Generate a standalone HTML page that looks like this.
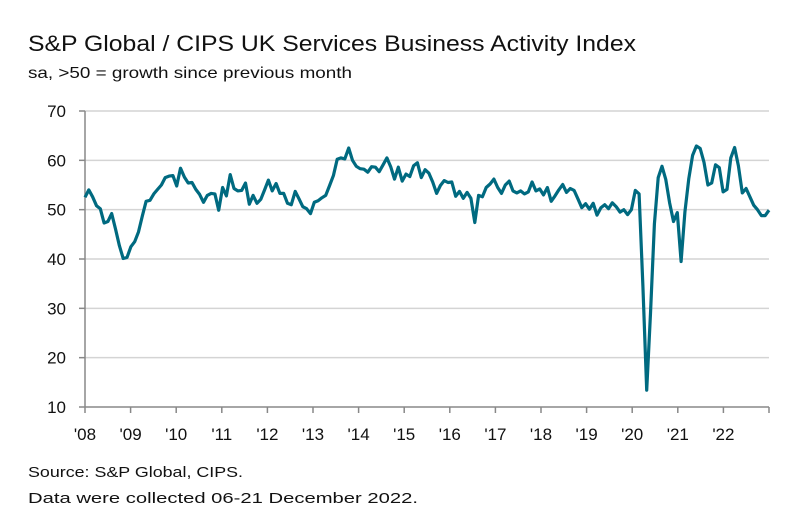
<!DOCTYPE html>
<html><head><meta charset="utf-8"><style>
body{margin:0;background:#fff;width:790px;height:515px;overflow:hidden;font-family:"Liberation Sans",sans-serif;}
svg text{font-family:"Liberation Sans",sans-serif;fill:#111;}
</style></head><body>
<svg id="chart" width="790" height="515">
<text x="28" y="51" font-size="22" textLength="608" lengthAdjust="spacingAndGlyphs">S&amp;P Global / CIPS UK Services Business Activity Index</text>
<text x="28" y="78" font-size="16" textLength="324" lengthAdjust="spacingAndGlyphs">sa, &gt;50 = growth since previous month</text>
<g id="grid"></g><g id="axes"></g><g id="series"></g>
<text x="28" y="477" font-size="15" textLength="215" lengthAdjust="spacingAndGlyphs">Source: S&amp;P Global, CIPS.</text>
<text x="28" y="503" font-size="15" textLength="390" lengthAdjust="spacingAndGlyphs">Data were collected 06-21 December  2022.</text>
</svg>
<script>
const yTicks=[10,20,30,40,50,60,70];
const xLabels=["'08","'09","'10","'11","'12","'13","'14","'15","'16","'17","'18","'19","'20","'21","'22"];
const values=[
52.5,54.0,52.6,50.8,50.2,47.3,47.6,49.2,46.0,42.7,40.1,40.3,
42.5,43.5,45.5,48.7,51.7,51.9,53.2,54.1,55.0,56.5,56.8,56.9,
54.8,58.4,56.6,55.4,55.5,54.1,53.1,51.5,52.9,53.3,53.2,49.9,
54.5,52.8,57.1,54.3,53.8,53.9,55.4,51.1,52.9,51.3,52.1,54.0,
56.0,53.8,55.3,53.3,53.3,51.3,51.0,53.7,52.2,50.6,50.2,49.2,
51.5,51.8,52.4,52.9,54.9,56.9,60.2,60.5,60.3,62.5,60.0,58.8,
58.3,58.2,57.6,58.7,58.6,57.7,59.1,60.5,58.7,56.2,58.6,55.8,
57.2,56.7,58.9,59.5,56.5,58.1,57.4,55.6,53.3,54.9,55.9,55.5,
55.6,52.7,53.7,52.3,53.5,52.3,47.4,52.9,52.6,54.5,55.2,56.2,
54.5,53.3,55.0,55.8,53.8,53.4,53.8,53.2,53.6,55.6,53.8,54.2,
53.0,54.5,51.7,52.8,54.0,55.1,53.5,54.3,53.9,52.2,50.4,51.2,
50.1,51.3,48.9,50.4,51.0,50.2,51.4,50.6,49.5,50.0,49.0,50.0,
53.9,53.2,34.5,13.4,29.0,47.1,56.5,58.8,56.1,51.4,47.6,49.4,
39.5,49.5,56.3,61.0,62.9,62.4,59.6,55.0,55.4,59.1,58.5,53.6,
54.1,60.5,62.6,58.9,53.4,54.3,52.6,50.9,50.0,48.8,48.8,49.9];
const X0=85,X1=769,Y0=407,Y1=111;
const NS="http://www.w3.org/2000/svg";
function y(v){return Y0-(v-10)/60*(Y0-Y1);}
function xm(i){return X0+i*(X1-X0)/(values.length-1);}
function xy(k){return X0+k*(X1-X0)/xLabels.length;}
function mk(t,a,p){const e=document.createElementNS(NS,t);for(const k in a)e.setAttribute(k,a[k]);p.appendChild(e);return e;}
const grid=document.getElementById('grid'),axes=document.getElementById('axes'),ser=document.getElementById('series');
yTicks.forEach(v=>{
 if(v>10){const g=mk('line',{x1:X0,x2:X1,y1:y(v),y2:y(v),stroke:'#d4d4d4','stroke-width':1.5},grid);
 
 }
 const tk=mk('line',{x1:79,x2:X0,y1:y(v),y2:y(v),stroke:'#888','stroke-width':1.5},axes);
 
 
 const t=mk('text',{x:66,y:y(v)+6,'text-anchor':'end','font-size':17},axes);t.textContent=v;
 
 
});
const ya=mk('line',{x1:X0,x2:X0,y1:Y1,y2:Y0,stroke:'#888','stroke-width':1.5},axes);


const xa=mk('line',{x1:X0,x2:X1,y1:Y0,y2:Y0,stroke:'#888','stroke-width':1.5},axes);


for(let k=0;k<=xLabels.length;k++){
 const tk=mk('line',{x1:xy(k),x2:xy(k),y1:Y0,y2:Y0+6,stroke:'#888','stroke-width':1.5},axes);
 
 
 if(k<xLabels.length){const t=mk('text',{x:xy(k),y:440,'text-anchor':'middle','font-size':17},axes);t.textContent=xLabels[k];
 
 }
}
const p=mk('polyline',{points:values.map((v,i)=>xm(i).toFixed(1)+','+y(v).toFixed(1)).join(' '),fill:'none',stroke:'#006a80','stroke-width':3.2,'stroke-linejoin':'round'},ser);


</script>
</body></html>
